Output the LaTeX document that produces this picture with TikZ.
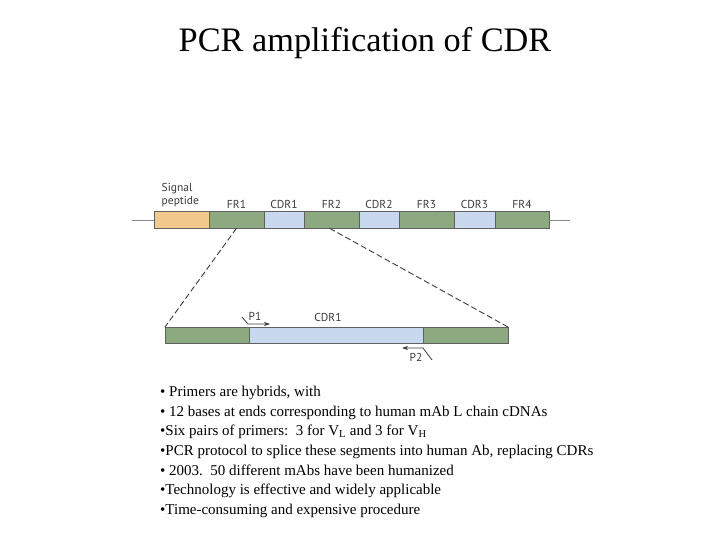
\documentclass[tikz,border=0pt]{standalone}
\usepackage{fontspec}
\setmainfont{Liberation Serif}
\newfontfamily\labelfont{PT Sans}
\usetikzlibrary{positioning,arrows.meta}

\definecolor{pepcol}{HTML}{F4C98C}
\definecolor{frcol}{HTML}{8DA97F}
\definecolor{cdrcol}{HTML}{C8D8EE}
\definecolor{linecol}{HTML}{8A8A8A}
\definecolor{labcol}{HTML}{3A3A3A}

\begin{document}
\begin{tikzpicture}[x=1pt,y=-1pt,>=Stealth]
    \tikzset{
        seg/.style={
            draw=labcol!80,line width=0.6pt,
            inner sep=0pt,outer sep=0pt,
            minimum height=16.5pt
        },
        pep/.style={seg,fill=pepcol},
        fr/.style={seg,fill=frcol},
        cdr/.style={seg,fill=cdrcol},
        seglabel/.style={font=\labelfont\fontsize{11.5}{13.5}\selectfont,text=labcol,inner sep=1pt},
        backbone/.style={draw=linecol,line width=0.9pt},
        zoomline/.style={draw=labcol,line width=0.9pt,dash pattern=on 6pt off 3pt},
        primer/.style={->,draw=labcol,line width=0.8pt,
            >={Stealth[length=6pt,width=4pt]}},
        bullets/.style={align=left,inner sep=0pt,
            font=\fontsize{15}{19.6}\selectfont}
    }
    \useasboundingbox (0,0) rectangle (720,540);

    \node[font=\fontsize{34.3}{40}\selectfont] (title) at (365,43)
        {PCR amplification of CDR};

    % variable region, top row
    \foreach \nm/\st/\cx/\w/\lab in {
        fr1/fr/236.5/55/FR1,cdr1/cdr/284/40/CDR1,
        fr2/fr/331.5/55/FR2,cdr2/cdr/379/40/CDR2,
        fr3/fr/426.5/55/FR3,cdr3/cdr/474.5/41/CDR3,
        fr4/fr/522/54/FR4}{
        \node[\st,minimum width=\w pt,
            label={[seglabel,label distance=2pt]above:\lab}] (\nm) at (\cx,220) {};
    }
    \node[pep,minimum width=55pt] (sp) at (181.5,220) {};
    \node[seglabel,align=left,anchor=south west] (splab) at (160.5,208.5)
        {Signal\\peptide};

    \draw[backbone] (sp.west) -- ++(-22,0);
    \draw[backbone] (fr4.east) -- ++(21,0);

    % expanded CDR1, bottom row
    \node[cdr,minimum width=174pt,minimum height=16pt] (lcdr) at (336,335) {};
    \node[fr,minimum width=84pt,minimum height=16pt,left=0pt of lcdr] (lfr) {};
    \node[fr,minimum width=85pt,minimum height=16pt,right=0pt of lcdr] (rfr) {};
    \node[seglabel] (lcdrlab) at (328,317) {CDR1};

    \draw[zoomline] (fr1.south) -- (lfr.north west);
    \draw[zoomline] ([xshift=-2pt]fr2.south) -- (rfr.north east);

    % primers
    \coordinate (p1a) at ([shift={(-7,-10)}]lcdr.north west);
    \coordinate (p1b) at ([shift={(-1,-3)}]lcdr.north west);
    \coordinate (p1c) at ([shift={(21,-3)}]lcdr.north west);
    \draw[primer] (p1a) -- (p1b) -- (p1c);
    \node[seglabel] (p1) at (255,316) {P1};

    \coordinate (p2a) at ([shift={(9,17)}]lcdr.south east);
    \coordinate (p2b) at ([shift={(0,5)}]lcdr.south east);
    \coordinate (p2c) at ([shift={(-21,5)}]lcdr.south east);
    \draw[primer] (p2a) -- (p2b) -- (p2c);
    \node[seglabel] (p2) at (416,357) {P2};

    \node[bullets,anchor=north west] (notes) at (160,386)
        {• Primers are hybrids, with\\
         • 12 bases at ends corresponding to human mAb L chain cDNAs\\
         •Six pairs of primers:\ \ 3 for V\textsubscript{L} and 3 for V\textsubscript{H}\\
         •PCR protocol to splice these segments into human Ab, replacing CDRs\\
         • 2003.\ \ 50 different mAbs have been humanized\\
         •Technology is effective and widely applicable\\
         •Time-consuming and expensive procedure};
\end{tikzpicture}
\end{document}
